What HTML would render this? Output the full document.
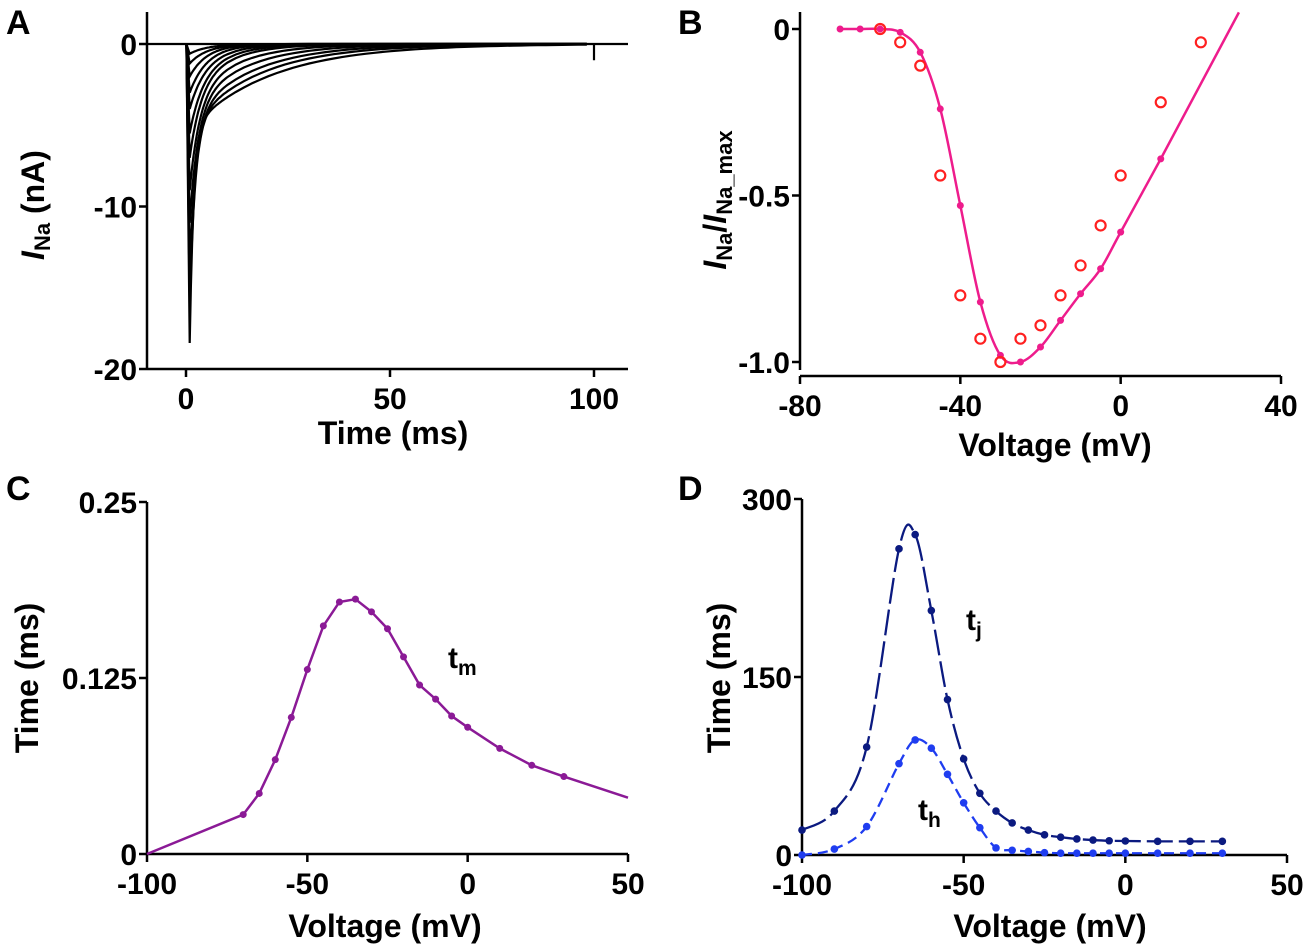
<!DOCTYPE html>
<html><head><meta charset="utf-8">
<style>
html,body{margin:0;padding:0;background:#fff;}
svg{display:block;font-family:"Liberation Sans",Arial,sans-serif;font-weight:bold;}
</style></head>
<body>
<svg id="fig" width="1306" height="948" viewBox="0 0 1306 948" xmlns="http://www.w3.org/2000/svg">
<g font-size="34">
<text x="6" y="34">A</text>
<text x="678" y="34">B</text>
<text x="6" y="500">C</text>
<text x="678" y="500">D</text>
</g>
<g id="pA"></g>
<g id="pB"></g>
<g id="pC"></g>
<g id="pD"></g>
</svg>
<script>
// ---- Panel A data ----
const aPeakAmp = [-18.4,-16,-13.5,-11,-9,-7,-5.5,-4,-3,-2,-1.2,-0.6];
const aSlowAmp = [-5.2,-5.0,-4.6,-4.0,-3.4,-2.8,-2.3,-1.8,-1.4,-1.0,-0.6,-0.3];
const aSlowTau = [20,17,15,13,11,9,8,7,6,5,4,3];
const aXTicks = [0,50,100];
const aYTicks = [0,-10,-20];
// ---- Panel B data ----
const bFitV = [-70,-65,-60,-55,-50,-45,-40,-35,-30,-25,-20,-15,-10,-5,0,10];
const bFitI = [0,0,0,-0.01,-0.07,-0.24,-0.53,-0.82,-0.98,-1.0,-0.955,-0.875,-0.795,-0.72,-0.61,-0.39];
const bLineEndV = 29.5, bLineEndI = 0.05;
const bExpV = [-60,-55,-50,-45,-40,-35,-30,-25,-20,-15,-10,-5,0,10,20];
const bExpI = [0,-0.04,-0.11,-0.44,-0.8,-0.93,-1.0,-0.93,-0.89,-0.8,-0.71,-0.59,-0.44,-0.22,-0.04];
const bXTicks = [-80,-40,0,40];
const bYTicks = [0,-0.5,-1.0];
// ---- Panel C data ----
const cV = [-70,-65,-60,-55,-50,-45,-40,-35,-30,-25,-20,-15,-10,-5,0,10,20,30];
const cTau = [0.028,0.043,0.067,0.097,0.131,0.162,0.179,0.181,0.172,0.16,0.14,0.12,0.11,0.098,0.09,0.075,0.063,0.055];
const cStart = [-100,0], cEnd = [50,0.04];
const cXTicks = [-100,-50,0,50];
const cYTicks = [0,0.125,0.25];
// ---- Panel D data ----
const dV = [-100,-90,-80,-70,-65,-60,-55,-50,-45,-40,-35,-30,-25,-20,-15,-10,-5,0,10,20,30];
const dTauJ = [21,37,91,258,270,206,131,81,52,37,27,21,17,15,13.5,12.6,12,11.8,11.5,11.5,11.5];
const dTauH = [0,5,24,77,97,90,68,44,23,6,4,3,2,1.5,1.5,1.5,1.5,1.5,1.5,1.5,1.5];
const dXTicks = [-100,-50,0,50];
const dYTicks = [0,150,300];

const NS="http://www.w3.org/2000/svg";
function mk(parent,tag,attrs,text){const e=document.createElementNS(NS,tag);for(const k in attrs)e.setAttribute(k,attrs[k]);if(text!==undefined)e.textContent=text;parent.appendChild(e);return e;}
function lin(d0,d1,r0,r1){return v=>r0+(v-d0)*(r1-r0)/(d1-d0);}
function smooth(pts){let d="M"+pts[0][0]+","+pts[0][1];for(let i=0;i<pts.length-1;i++){const p0=pts[i-1]||pts[i],p1=pts[i],p2=pts[i+1],p3=pts[i+2]||p2;const c1=[p1[0]+(p2[0]-p0[0])/6,p1[1]+(p2[1]-p0[1])/6],c2=[p2[0]-(p3[0]-p1[0])/6,p2[1]-(p3[1]-p1[1])/6];d+=" C"+c1[0]+","+c1[1]+" "+c2[0]+","+c2[1]+" "+p2[0]+","+p2[1];}return d;}

function axes(g,o){
  const ax=mk(g,'g',{stroke:'#000','stroke-width':2.5});
  
  
  const yl=mk(ax,'line',{x1:o.ax,y1:o.yTop,x2:o.ax,y2:o.yAxisBottom});
  
  
  const xl=mk(ax,'line',{x1:o.xAxisLeft,y1:o.ay,x2:o.xRight,y2:o.ay});
  
  
  o.xt.forEach(v=>{const x=o.sx(v);mk(ax,'line',{x1:x,y1:o.ay,x2:x,y2:o.ay+8});
    const t=mk(g,'text',{x:x,y:o.ay+40,'text-anchor':'middle','font-size':30},String(v));
    
    });
  o.yt.forEach(v=>{const y=o.sy(v);mk(ax,'line',{x1:o.ax-8,y1:y,x2:o.ax,y2:y});
    const t=mk(g,'text',{x:o.ax-10,y:y+11,'text-anchor':'end','font-size':30},o.fmt?o.fmt(v):String(v));
    
    });
}

// Panel A
(function(){
  const g=document.getElementById('pA');
  const sx=lin(0,100,186,594), sy=lin(0,-20,44,369);
  axes(g,{ax:147,ay:369,yTop:12,yAxisBottom:369,xAxisLeft:147,xRight:628,sx,sy,xt:aXTicks,yt:aYTicks});
  const tr=mk(g,'g',{fill:'none',stroke:'#000','stroke-width':2.2});
  
  
  mk(tr,'line',{x1:147,y1:44,x2:628,y2:44});
  aPeakAmp.forEach((A,i)=>{
    const S=aSlowAmp[i]*Math.min(1,Math.abs(A)/5+0.2), ts=aSlowTau[i];
    const F=A-S; let pts=[[sx(0.1),sy(0)],[sx(0.9),sy(A)]];
    for(let t=1.2;t<=100;t+=t<10?0.3:2){const tt=t-0.9;const v=F*Math.exp(-tt/(1.0+i*0.35))+S*Math.exp(-tt/ts);pts.push([sx(t),sy(v)]);}
    const p=mk(tr,'path',{d:"M"+pts.map(q=>q[0].toFixed(1)+","+q[1].toFixed(1)).join(" L")});
    
    
  });
  mk(tr,'line',{x1:sx(100),y1:sy(0),x2:sx(100),y2:sy(-1)});
  const yt=mk(g,'text',{transform:'translate(44,205) rotate(-90)','text-anchor':'middle','font-size':32});
  yt.innerHTML='<tspan font-style="italic">I</tspan><tspan font-size="22" dy="6">Na</tspan><tspan dy="-6"> (nA)</tspan>';
  
  
  const xt=mk(g,'text',{x:393,y:444,'text-anchor':'middle','font-size':32},'Time (ms)');
  
  
})();

// Panel B
(function(){
  const g=document.getElementById('pB');
  const sx=lin(-80,40,800,1281), sy=lin(0,-1,29,362);
  axes(g,{ax:800,ay:376,yTop:12,yAxisBottom:370,xAxisLeft:800,xRight:1281,sx,sy,xt:bXTicks,yt:bYTicks,fmt:v=>v===0?'0':v.toFixed(1)});
  const pts=bFitV.map((v,i)=>[sx(v),sy(bFitI[i])]);
  const fit=mk(g,'path',{d:smooth(pts)+" L"+sx(bLineEndV)+","+sy(bLineEndI),fill:'none',stroke:'#ee1c8c','stroke-width':2.5});
  
  
  pts.forEach(p=>{const c=mk(g,'circle',{cx:p[0],cy:p[1],r:3.5,fill:'#ee1c8c'});
    
    });
  bExpV.forEach((v,i)=>{const c=mk(g,'circle',{cx:sx(v),cy:sy(bExpI[i]),r:5,fill:'none',stroke:'#ff2020','stroke-width':2.2});
    
    });
  const yt=mk(g,'text',{transform:'translate(726,200) rotate(-90)','text-anchor':'middle','font-size':32});
  yt.innerHTML='<tspan font-style="italic">I</tspan><tspan font-size="22" dy="6">Na</tspan><tspan dy="-6">/</tspan><tspan font-style="italic">I</tspan><tspan font-size="22" dy="6">Na_max</tspan>';
  
  
  const xt=mk(g,'text',{x:1055,y:456,'text-anchor':'middle','font-size':32},'Voltage (mV)');
  
  
})();

// Panel C
(function(){
  const g=document.getElementById('pC');
  const sx=lin(-100,50,147,628), sy=lin(0,0.25,854,502);
  axes(g,{ax:147,ay:854,yTop:502,yAxisBottom:854,xAxisLeft:147,xRight:628,sx,sy,xt:cXTicks,yt:cYTicks});
  const pts=cV.map((v,i)=>[sx(v),sy(cTau[i])]);
  const all=[[sx(cStart[0]),sy(cStart[1])]].concat(pts,[[sx(cEnd[0]),sy(cEnd[1])]]);
  const l=mk(g,'path',{d:"M"+all.map(p=>p[0]+","+p[1]).join(" L"),fill:'none',stroke:'#8b1a96','stroke-width':2.5});
  
  
  pts.forEach(p=>{const c=mk(g,'circle',{cx:p[0],cy:p[1],r:3.5,fill:'#8b1a96'});
    
    });
  const lab=mk(g,'text',{x:448,y:668,'font-size':30});
  lab.innerHTML='t<tspan font-size="21" dy="7">m</tspan>';
  
  
  const yt=mk(g,'text',{transform:'translate(38,678) rotate(-90)','text-anchor':'middle','font-size':32},'Time (ms)');
  
  
  const xt=mk(g,'text',{x:385,y:937,'text-anchor':'middle','font-size':32},'Voltage (mV)');
  
  
})();

// Panel D
(function(){
  const g=document.getElementById('pD');
  const sx=lin(-100,50,802,1287), sy=lin(0,300,855,499);
  axes(g,{ax:802,ay:855,yTop:499,yAxisBottom:855,xAxisLeft:802,xRight:1287,sx,sy,xt:dXTicks,yt:dYTicks});
  [[dTauJ,'#0b1a80','26,6','tau-j'],[dTauH,'#1f3df0','10,6','tau-h']].forEach(([arr,col,dash,nm])=>{
    const pts=dV.map((v,i)=>[sx(v),sy(arr[i])]);
    const p=mk(g,'path',{d:smooth(pts),fill:'none',stroke:col,'stroke-width':2.3,'stroke-dasharray':dash});
    
    
    pts.forEach(q=>{const c=mk(g,'circle',{cx:q[0],cy:q[1],r:3.8,fill:col});
      
      });
  });
  const lj=mk(g,'text',{x:966,y:630,'font-size':30});
  lj.innerHTML='t<tspan font-size="21" dy="7">j</tspan>';
  
  
  const lh=mk(g,'text',{x:918,y:820,'font-size':30});
  lh.innerHTML='t<tspan font-size="21" dy="7">h</tspan>';
  
  
  const yt=mk(g,'text',{transform:'translate(730,678) rotate(-90)','text-anchor':'middle','font-size':32},'Time (ms)');
  
  
  const xt=mk(g,'text',{x:1050,y:937,'text-anchor':'middle','font-size':32},'Voltage (mV)');
  
  
})();
</script>
</body></html>
